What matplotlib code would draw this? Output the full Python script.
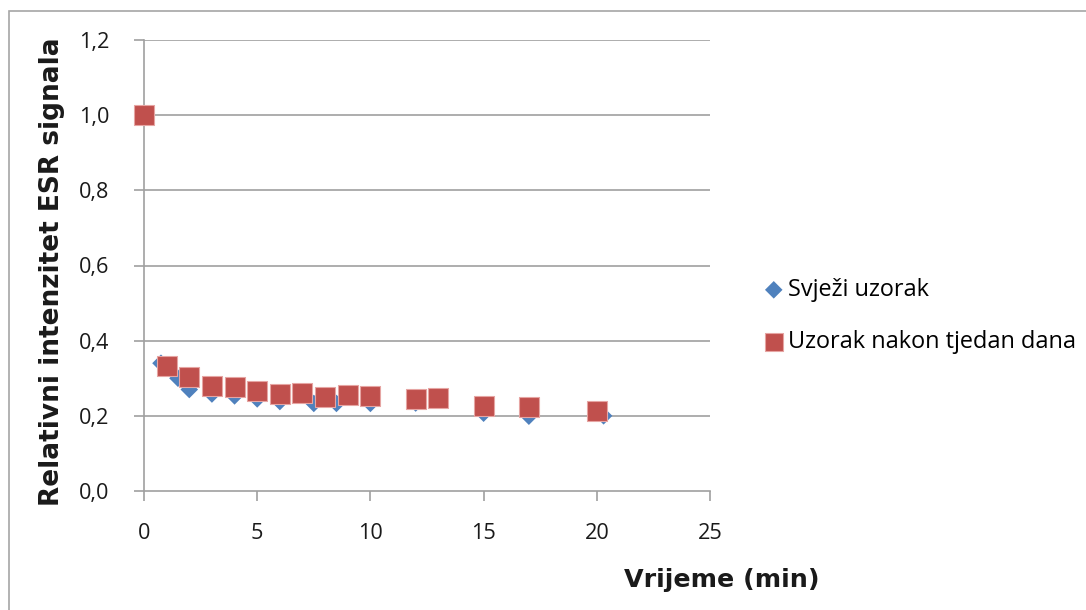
import matplotlib
matplotlib.use("Agg")
import matplotlib.pyplot as plt
from matplotlib.patches import Rectangle

# Data
fresh_x = [0, 0.75, 1.5, 2, 3, 4, 5, 6, 7.5, 8.5, 10, 12, 15, 17, 20.3]
fresh_y = [1.0, 0.34, 0.30, 0.27, 0.258, 0.253, 0.245, 0.238, 0.233, 0.233, 0.233, 0.234, 0.207, 0.199, 0.20]
week_x = [0, 1, 2, 3, 4, 5, 6, 7, 8, 9, 10, 12, 13, 15, 17, 20]
week_y = [1.0, 0.333, 0.302, 0.280, 0.277, 0.265, 0.259, 0.262, 0.249, 0.256, 0.253, 0.246, 0.248, 0.227, 0.224, 0.213]
fresh_label = "Svježi uzorak"
week_label = "Uzorak nakon tjedan dana"
x_ticks = [0, 5, 10, 15, 20, 25]
y_ticks = [0.0, 0.2, 0.4, 0.6, 0.8, 1.0, 1.2]
y_tick_labels = ["0,0", "0,2", "0,4", "0,6", "0,8", "1,0", "1,2"]
x_title = "Vrijeme (min)"
y_title = "Relativni intenzitet ESR signala"

W, H = 1086, 610
plt.rcParams['font.family'] = ['Open Sans', 'DejaVu Sans']
fig = plt.figure(figsize=(W / 100, H / 100), dpi=100)
renderer = fig.canvas.get_renderer()


def fit_size(text, target_px, base=12, **kw):
    t = fig.text(0, 0, text, fontsize=base, **kw)
    w = t.get_window_extent(renderer=renderer).width
    t.remove()
    return base * target_px / w


title_font = dict(family=['DejaVu Sans'], fontweight='bold')
ysz = fit_size(y_title, 465, **title_font)
xsz = fit_size(x_title, 195, **title_font)
tick_sz = fit_size("1,2", 30)
leg_sz = fit_size(week_label, 287)

# outer chart border
fig.patches.append(Rectangle((9 / W, -0.1), 1.2, (H - 11) / H + 0.1, transform=fig.transFigure,
                             fill=False, edgecolor='#a6a6a6', linewidth=1.2))

ax = fig.add_axes([144 / W, 1 - 491 / H, (710 - 144) / W, (491 - 40) / H])
grid_c = '#a0a0a0'
for yv in y_ticks[1:]:
    ax.axhline(yv, color=grid_c, linewidth=1.2, zorder=1)

ax.scatter(fresh_x, fresh_y, marker='D', s=80, color='#4F81BD', edgecolors='none', zorder=3,
           label=fresh_label, clip_on=False)
ax.scatter(week_x, week_y, marker='s', s=190, color='#C0504D', edgecolors='#E6A5A3', linewidths=0.8,
           zorder=4, label=week_label, clip_on=False)

ax.set_xlim(0, 25)
ax.set_ylim(0, 1.2)
ax.set_xticks(x_ticks)
ax.set_yticks(y_ticks)
ax.set_yticklabels(y_tick_labels)
for s in ['top', 'right']:
    ax.spines[s].set_visible(False)
for s in ['left', 'bottom']:
    ax.spines[s].set_color(grid_c)
    ax.spines[s].set_linewidth(1.2)
ax.tick_params(axis='both', colors=grid_c, direction='out', length=7, width=1.2, labelcolor='#1a1a1a',
               labelsize=tick_sz)
ax.tick_params(axis='y', pad=18)
ax.tick_params(axis='x', pad=16)

fig.text(52 / W, 1 - 272 / H, y_title, rotation=90, ha='center', va='center', fontsize=ysz,
         color='#1a1a1a', **title_font)
fig.text(722 / W, 1 - 580 / H, x_title, ha='center', va='center', fontsize=xsz, color='#1a1a1a',
         **title_font)

leg = ax.legend(loc='upper left', bbox_to_anchor=(762 / W, 1 - 278 / H), bbox_transform=fig.transFigure,
                frameon=False, fontsize=leg_sz, handletextpad=0.1, labelspacing=1.2, borderaxespad=0,
                handlelength=1.0, scatterpoints=1, borderpad=0)
leg.legend_handles[0].set_sizes([80])
leg.legend_handles[1].set_sizes([170])
fig.savefig('out.png', dpi=100)
